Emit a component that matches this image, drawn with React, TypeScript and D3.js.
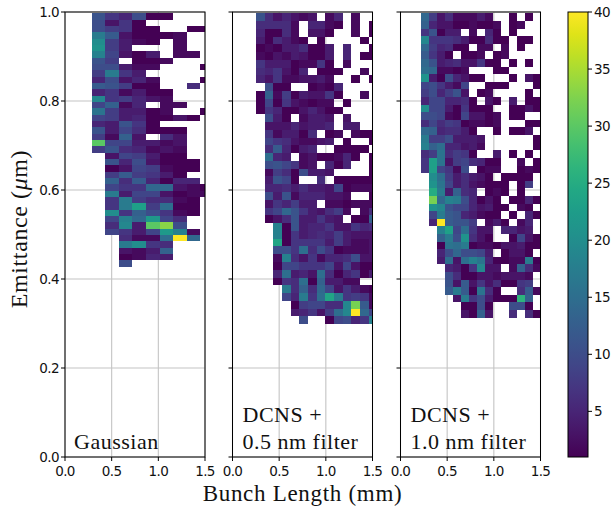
import React from "react";
import * as d3 from "d3";

const xTicks = [0, 0.5, 1, 1.5];
const yTicks = [0, 0.2, 0.4, 0.6, 0.8, 1];
const cbTicks = [5, 10, 15, 20, 25, 30, 35, 40];

const gaussian = [
[11,7,5,10,1,1,0,0,0],[10,3,7,1,0,0,0,0,0],[10,8,7,1,1,0,0,1,1],[17,12,3,1,1,1,2,0,0],
[20,8,4,2,1,0,2,0,0],[21,8,4,0,0,0,2,0,0],[18,9,3,1,4,0,2,2,0],[11,8,0,1,1,2,0,0,0],
[10,10,4,2,2,0,0,0,1],[8,17,7,4,0,0,0,0,0],[5,10,3,5,2,0,0,0,1],[12,11,8,1,1,0,0,6,0],
[5,7,2,4,1,1,0,0,0],[19,7,8,5,3,2,0,0,0],[9,13,2,5,0,2,2,0,0],[16,8,4,4,1,2,0,0,1],
[9,8,4,5,1,1,3,1,0],[5,4,11,7,1,0,0,0,0],[11,4,9,6,1,1,1,0,0],[8,2,13,3,0,6,3,0,0],
[30,9,9,4,4,2,3,0,0],[8,11,6,5,2,3,2,0,0],[0,3,9,8,4,1,1,0,0],[0,11,5,10,3,1,1,1,0],
[0,1,3,9,8,2,1,1,0],[0,8,12,8,7,4,1,0,0],[0,13,6,12,5,1,5,5,0],[0,9,7,7,14,14,3,2,1],
[0,17,4,9,9,3,1,2,2],[0,7,17,8,6,6,2,1,0],[0,7,17,23,8,15,1,1,0],[0,20,7,13,10,7,2,1,0],
[0,9,18,14,22,9,6,0,0],[0,6,19,4,30,33,10,0,0],[0,9,7,4,9,22,18,2,0],[0,0,6,2,2,15,40,14,0],
[0,0,17,20,7,6,0,0,0],[0,0,3,2,4,13,0,0,0],[0,0,1,2,5,4,0,0,0],[0,0,10,0,0,0,0,0,0],
];

const dcns05 = [
[11,6,3,5,3,2,3,0,2,5,0,2,0,0],[6,6,6,6,2,0,5,5,2,1,0,2,0,1],[5,1,1,6,2,0,3,3,1,0,0,2,0,1],
[4,1,6,4,2,1,0,1,0,0,0,0,1,0],[1,2,1,4,4,6,1,1,4,0,5,0,0,1],[2,1,3,2,4,3,1,1,4,0,5,0,1,1],
[7,4,4,4,1,2,2,7,1,0,2,0,0,0],[6,5,7,3,1,5,0,1,1,1,0,0,2,0],[5,3,7,2,2,3,3,4,2,0,0,1,0,1],
[0,10,1,1,0,0,1,2,1,5,0,0,0,0],[1,13,2,8,1,4,3,3,7,1,0,0,2,0],[1,9,1,7,3,2,1,2,2,0,1,0,0,0],
[1,7,5,1,1,3,5,3,1,1,0,0,0,0],[0,10,4,1,0,2,4,4,3,0,3,0,0,0],[0,3,3,3,5,3,4,4,5,0,4,4,0,0],
[0,7,2,4,4,1,6,0,1,2,0,2,1,1],[0,9,7,6,3,2,2,3,4,0,1,0,0,1],[0,6,12,5,1,4,5,0,0,1,1,1,1,0],
[0,15,5,4,0,2,3,1,1,2,5,1,0,1],[0,10,11,9,7,2,3,0,5,1,5,0,0,1],[0,2,8,6,1,10,4,4,3,0,0,0,0,1],
[0,4,11,9,1,0,0,6,0,1,1,1,1,1],[0,5,5,6,4,6,4,4,3,9,1,2,2,2],[0,10,4,11,2,5,5,5,3,3,2,0,0,1],
[0,3,7,5,8,4,4,0,2,2,1,2,2,2],[0,7,9,14,11,7,4,3,6,8,2,0,2,6],[0,1,3,6,11,4,4,7,4,3,0,1,1,13],
[0,0,18,1,11,4,5,5,7,3,3,7,5,6],[0,0,18,1,7,4,5,6,5,8,4,3,3,3],[0,0,24,1,7,7,7,7,4,8,4,2,2,3],
[0,0,10,10,7,15,6,10,7,1,2,2,2,3],[0,0,2,18,6,3,7,2,5,5,6,10,3,3],[0,0,1,9,9,7,7,7,9,3,9,3,1,1],
[0,0,5,15,4,5,3,15,6,1,5,7,1,4],[0,0,1,7,6,15,1,13,4,4,2,2,0,0],[0,0,0,17,6,13,6,14,9,3,7,4,2,1],
[0,0,0,9,5,17,7,15,24,17,7,8,7,2],[0,0,0,0,1,8,9,9,6,6,19,32,12,2],[0,0,0,0,4,5,7,3,8,15,19,40,14,9],
[0,0,0,0,0,10,0,0,1,9,10,5,7,18],
];

const dcns10 = [
[14,8,3,6,2,2,2,4,2,0,0,1,0,1,0],[13,5,3,3,1,1,2,1,1,2,0,1,2,0,0],[7,11,1,4,4,0,2,0,5,1,0,1,0,0,0],
[19,7,7,7,6,4,1,1,6,1,1,0,1,1,0],[14,8,5,6,1,1,0,2,2,0,2,0,1,0,0],[12,7,4,1,0,1,1,2,0,1,2,0,0,0,0],
[14,11,4,5,6,3,3,7,1,1,0,1,0,1,0],[15,14,2,2,1,2,0,0,0,1,1,0,0,0,0],[21,4,1,10,5,3,1,1,0,0,0,1,0,3,1],
[9,10,7,4,2,9,0,0,1,1,1,0,0,0,1],[8,10,5,8,11,3,0,1,2,0,0,0,0,1,0],[5,9,9,5,5,6,1,0,3,1,0,4,0,1,1],
[20,9,9,4,1,7,1,1,1,0,0,1,1,3,1],[10,10,9,2,1,9,3,3,1,2,0,1,1,0,0],[6,9,6,8,7,1,2,2,1,2,0,0,0,1,1],
[14,13,5,6,6,4,1,0,0,1,0,1,1,3,0],[17,8,8,10,4,4,4,3,0,0,0,0,0,0,1],[18,13,15,5,5,3,4,2,0,0,0,0,0,0,1],
[6,8,16,6,8,7,1,0,0,4,0,1,0,1,0],[7,23,16,3,8,9,6,5,1,1,0,0,2,0,1],[7,23,9,7,2,10,0,1,2,2,0,0,1,2,1],
[0,20,15,8,4,6,4,3,1,0,1,1,1,1,0],[0,21,16,9,4,6,3,2,1,1,1,0,1,8,0],[0,25,17,4,13,6,5,0,1,2,1,0,1,0,0],
[0,32,14,18,17,10,5,1,3,1,0,1,1,5,1],[0,21,19,11,9,9,5,3,4,1,1,0,2,1,0],[0,9,17,12,11,5,4,2,1,1,0,1,0,5,1],
[0,5,40,12,11,11,8,0,2,4,1,0,2,5,0],[0,0,18,23,9,15,7,3,3,0,5,5,3,4,0],[0,0,13,17,10,21,6,3,1,0,0,1,9,3,1],
[0,0,1,16,15,17,1,2,2,1,3,3,4,1,1],[0,0,5,10,14,10,10,9,4,0,1,3,3,1,0],[0,0,4,15,3,15,18,16,5,1,1,2,2,17,1],
[0,0,0,5,4,1,7,19,3,3,0,2,13,6,2],[0,0,0,10,6,1,1,3,3,2,3,3,3,2,0],[0,0,0,11,3,12,3,7,3,6,1,1,7,8,0],
[0,0,0,12,17,12,1,16,6,1,0,0,6,12,2],[0,0,0,0,3,17,7,10,4,1,1,1,26,13,0],[0,0,0,0,0,1,1,10,1,0,0,10,10,1,0],
[0,0,0,0,0,3,1,13,3,0,0,6,0,6,1],
];

const panelData = [gaussian, dcns05, dcns10];
const panelLabels = [["Gaussian"], ["DCNS +", "0.5 nm filter"], ["DCNS +", "1.0 nm filter"]];

const lefts = [65, 232.5, 400.5];
const plotW = 140;
const top = 12;
const bottom = 457;
const binX0 = [0.289, 0.252, 0.22];
const binW = [0.1447, 0.0929, 0.0857];
const binH = [0.01423, 0.01746, 0.0171];
const binTop = 0.997;

const serif = "'Liberation Serif', serif";
const sans = "'DejaVu Sans', sans-serif";

const color = d3.scaleSequential(d3.interpolateViridis).domain([1, 40]);
const yScale = d3.scaleLinear().domain([0, 1]).range([bottom, top]);
const cbScale = d3.scaleLinear().domain([1, 40]).range([bottom, top]);
const stops = d3.range(0, 1.0001, 0.05);

function Panel({ index }: { index: number }) {
  const left = lefts[index];
  const x = d3.scaleLinear().domain([0, 1.5]).range([left, left + plotW]);
  const data = panelData[index];
  const labels = panelLabels[index];
  const clip = `clip-${index}`;
  return (
    <g>
      <defs>
        <clipPath id={clip}>
          <rect x={left} y={top} width={plotW} height={bottom - top} />
        </clipPath>
      </defs>
      {xTicks.map((t) => (
        <line key={`gx${t}`} x1={x(t)} x2={x(t)} y1={top} y2={bottom} stroke="#c4c4c4" strokeWidth={1.1} />
      ))}
      {yTicks.map((t) => (
        <line key={`gy${t}`} x1={left} x2={left + plotW} y1={yScale(t)} y2={yScale(t)} stroke="#c4c4c4" strokeWidth={1.1} />
      ))}
      <g clipPath={`url(#${clip})`} shapeRendering="crispEdges">
        {data.map((row, k) =>
          row.map((v, j) => {
            if (!v) return null;
            const x1 = x(binX0[index] + j * binW[index]);
            const x2 = x(binX0[index] + (j + 1) * binW[index]);
            const y1 = yScale(binTop - k * binH[index]);
            const y2 = yScale(binTop - (k + 1) * binH[index]);
            return <rect key={`${k}-${j}`} x={x1} y={y1} width={x2 - x1} height={y2 - y1} fill={color(v)} />;
          })
        )}
      </g>
      <rect x={left} y={top} width={plotW} height={bottom - top} fill="none" stroke="#000" strokeWidth={1} />
      {xTicks.map((t) => (
        <g key={`tx${t}`}>
          <line x1={x(t)} x2={x(t)} y1={bottom} y2={bottom + 4} stroke="#000" />
          <text x={x(t)} y={bottom + 19} textAnchor="middle" fontFamily={sans} fontSize={13.5} letterSpacing={-0.6} fill="#111">
            {t.toFixed(1)}
          </text>
        </g>
      ))}
      {yTicks.map((t) => (
        <g key={`ty${t}`}>
          <line x1={left - 4} x2={left} y1={yScale(t)} y2={yScale(t)} stroke="#000" />
          {index === 0 && (
            <text x={left - 6} y={yScale(t) + 5} textAnchor="end" fontFamily={sans} fontSize={13.5} letterSpacing={-0.6} fill="#111">
              {t.toFixed(1)}
            </text>
          )}
        </g>
      ))}
      {labels.map((s, i) => (
        <text
          key={s}
          x={left + (index === 0 ? 9 : 10)}
          y={bottom - 8 - (labels.length - 1 - i) * 27.5}
          fontFamily={serif}
          fontSize={22}
          letterSpacing={0.5}
          fill="#111"
        >
          {s}
        </text>
      ))}
    </g>
  );
}

export default function App() {
  return (
    <svg width={613} height={507} style={{ position: "absolute", left: 0, top: 0, background: "#fff" }}>
      <defs>
        <linearGradient id="cb" x1="0" y1="1" x2="0" y2="0">
          {stops.map((s) => (
            <stop key={s} offset={s} stopColor={d3.interpolateViridis(s)} />
          ))}
        </linearGradient>
      </defs>
      {panelData.map((_, i) => (
        <Panel key={i} index={i} />
      ))}
      <rect x={568} y={top} width={20} height={bottom - top} fill="url(#cb)" stroke="#000" strokeWidth={1} />
      {cbTicks.map((t) => (
        <g key={t}>
          <line x1={588} x2={592} y1={cbScale(t)} y2={cbScale(t)} stroke="#000" />
          <text x={594} y={cbScale(t) + 5} fontFamily={sans} fontSize={13.5} letterSpacing={-0.6} fill="#111">
            {t}
          </text>
        </g>
      ))}
      <text x={302.5} y={501} textAnchor="middle" fontFamily={serif} fontSize={23} letterSpacing={0.7} fill="#111">
        Bunch Length (mm)
      </text>
      <text transform="translate(27,229) rotate(-90)" textAnchor="middle" fontFamily={serif} fontSize={24} letterSpacing={0.6} fill="#111">
        Emittance (<tspan fontStyle="italic">μ</tspan>m)
      </text>
    </svg>
  );
}
